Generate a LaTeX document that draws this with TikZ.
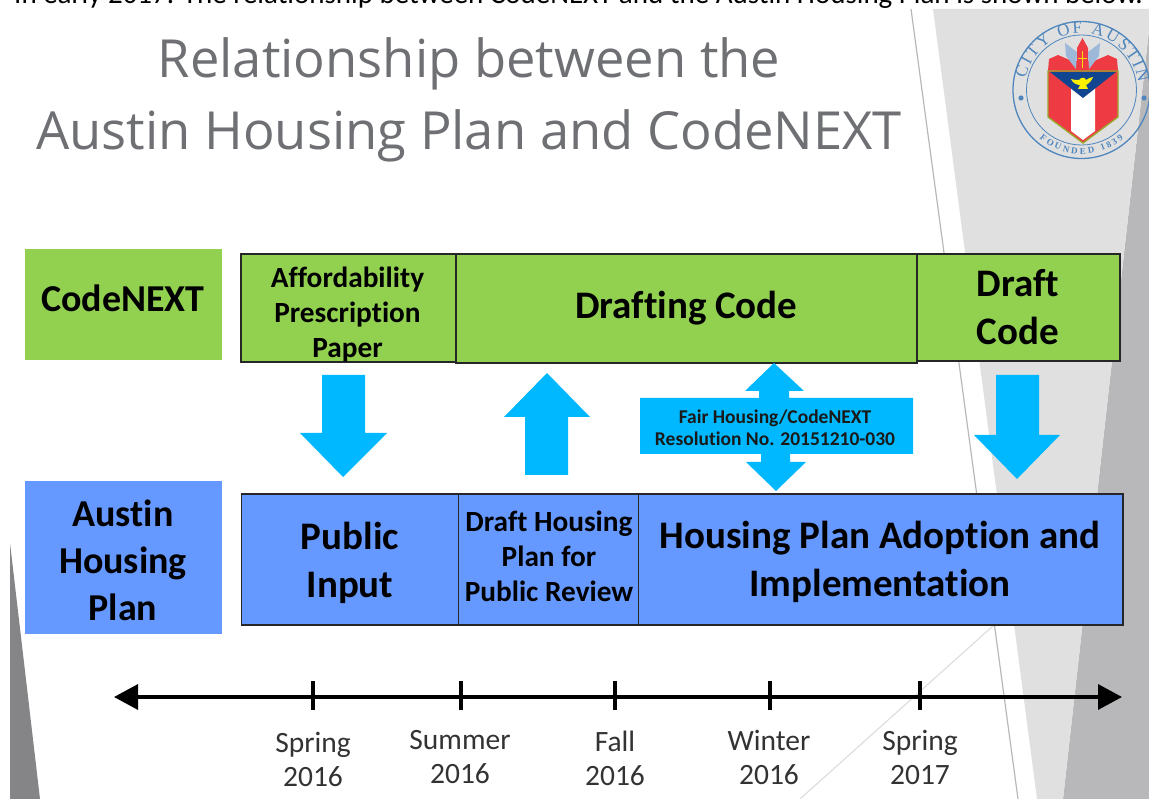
\documentclass[tikz,border=0pt]{standalone}
\usepackage{fontspec}
\setmainfont[Ligatures={NoCommon}]{Carlito}
\newfontfamily\titlefont{Open Sans}
\newfontfamily\sealfont{Liberation Serif}
\usetikzlibrary{arrows.meta,decorations.text}
\definecolor{gr}{HTML}{92D050}
\definecolor{bl}{HTML}{6699FF}
\definecolor{cy}{HTML}{00B8FF}
\definecolor{lg}{HTML}{E0E0E0}
\definecolor{dg}{HTML}{B8B8BA}
\definecolor{tri}{HTML}{858487}
\definecolor{tg}{HTML}{6F7074}
\definecolor{sealb}{HTML}{4F86BD}
\definecolor{sealr}{HTML}{EE3A43}
\definecolor{sealn}{HTML}{12458F}
\definecolor{sealo}{HTML}{9DA52C}
\definecolor{sealw}{HTML}{9DB8D8}
\tikzset{
  x=1pt,y=-1pt,
  band/.style={draw=black!85,line width=1.6pt,fill=#1,font=\bfseries,align=center,inner sep=0pt,anchor=north west,text=black},
  tag/.style={fill=#1,inner sep=0pt,anchor=north west},
  lbl/.style={inner sep=0pt,align=center,text=black},
  big/.style={font=\bfseries\fontsize{39}{48}\selectfont},
  lefttag/.style={font=\bfseries\fontsize{38}{47}\selectfont},
  mid/.style={font=\bfseries\fontsize{29.3}{35}\selectfont},
  blk/.style={fill=cy,draw=none},
  tick/.style={line width=3.4pt,draw=black},
  when/.style={font=\fontsize{29.5}{34}\selectfont,align=center,text=black!80,anchor=north,inner sep=0pt},
  ttl/.style={anchor=base,inner sep=0pt,text=tg,font=\titlefont\fontsize{52.5}{58}\selectfont}
}
\begin{document}
\begin{tikzpicture}
\useasboundingbox (0,0) rectangle (1149,799);
% slide decoration
\fill[dg] (1149,30) -- (1063,799) -- (1149,799) -- cycle;
\fill[lg] (933,9) -- (1149,9) -- (1149,30) -- (1063,799) -- (1037,799) -- cycle;
\draw[black!28,line width=1.2pt] (911,9) -- (1018,799);
\draw[black!13,line width=1.2pt] (994,625) -- (800,799);
\fill[tri] (10,543) -- (40,799) -- (10,799) -- cycle;
% clipped sentence on top
\begin{scope}
\clip (0,0) rectangle (1149,9);
\node[anchor=base west,inner sep=0pt,font=\fontsize{29}{30}\selectfont] (lead) at (14,4) {In early 2017. The relationship between CodeNEXT and the Austin Housing Plan is shown below.};
\end{scope}
% title
\node[ttl] (t1) at (469,78) {Relationship between the};
\node[ttl] (t2) at (469,150) {Austin Housing Plan and CodeNEXT};
% seal
\draw[sealb,line width=1.3pt] (1081.5,90) circle (68.5);
\draw[sealb,line width=0.8pt] (1081.5,90) circle (55);
\fill[sealb] (1021,98) circle (2.6) (1144,98) circle (2.6);
\path[decorate,decoration={text along path,text align={fit to path},text={|\sealfont\fontsize{17}{17}\selectfont\color{sealb}|CITY OF AUSTIN}}] (1025.7,78.1) arc[start angle=192,end angle=353,radius=57];
\path[decorate,decoration={text along path,text align={fit to path},text={|\sealfont\fontsize{9}{9}\selectfont\bfseries\color{sealb}|FOUNDED 1839}}] (1039.5,138.3) arc[start angle=131,end angle=49,radius=64];
\fill[sealr] (1048,71) -- (1049,59) -- (1058,55) -- (1072,61) -- (1077,61) -- (1077,48) -- (1082.5,38) -- (1088,48) -- (1088,61) -- (1094,61) -- (1108,55) -- (1117,59) -- (1118,71) -- cycle;
\fill[sealw] (1076,69) -- (1066,56) -- (1065,43) -- (1077,52) -- cycle (1089,69) -- (1099,56) -- (1100,43) -- (1088,52) -- cycle;
\draw[yellow!80!orange,line width=1pt] (1082.5,51) -- (1082.5,68) (1078,59) -- (1087,59);
\fill[sealr] (1048,71) -- (1118,71) -- (1118,117) -- (1083,143) -- (1048,117) -- cycle;
\fill[white] (1071,88) -- (1095,88) -- (1095,131) -- (1083,140) -- (1071,131) -- cycle;
\fill[sealn] (1050,72) -- (1116,72) -- (1083,98) -- cycle;
\fill[yellow] (1071,79) .. controls (1073,84) and (1078,85) .. (1080,85) -- (1078,89) -- (1088,89) -- (1086,85) .. controls (1089,84) and (1092,80) .. (1093,77) .. controls (1088,78) and (1087,80) .. (1086,80) .. controls (1085,77) and (1081,77) .. (1079,80) .. controls (1076,81) and (1074,79) .. cycle;
\draw[sealo,line width=1.4pt] (1048,71) -- (1118,71) -- (1118,117) -- (1083,143) -- (1048,117) -- cycle;
% left tags
\node[tag=gr,minimum width=197pt,minimum height=111pt] (cn) at (25,249) {};
\node[lbl,lefttag] (cnl) at (123,298) {CodeNEXT};
\node[tag=bl,minimum width=197pt,minimum height=153pt] (ahp) at (25,481) {};
\node[lbl,lefttag] (ahpl) at (123,560) {Austin\\Housing\\Plan};
% top row
\node[band=gr,minimum width=215pt,minimum height=108pt] (app) at (240,253) {};
\node[lbl,mid] (appl) at (347.5,315) {Affordability\\Prescription\\Paper};
\node[band=gr,minimum width=203.5pt,minimum height=107pt,big] (dr) at (915.5,253) {Draft\\Code};
\node[band=gr,minimum width=461pt,minimum height=109pt,big] (dc) at (455,253) {Drafting Code};
% bottom row
\node[band=bl,minimum width=217pt,minimum height=131pt] (pi) at (240.5,493) {};
\node[lbl,big] (pil) at (350,563) {Public\\Input};
\node[band=bl,minimum width=180pt,minimum height=131pt] (dh) at (457.5,493) {};
\node[lbl,mid] (dhl) at (549,556) {Draft Housing\\Plan for\\Public Review};
\node[band=bl,minimum width=484.5pt,minimum height=131pt] (ha) at (637.5,493) {};
\node[lbl,big] (hal) at (880,562) {Housing Plan Adoption and\\Implementation};
% block arrows
\fill[blk] (322,375) -- (365,375) -- (365,433) -- (387,433) -- (343,477) -- (300,433) -- (322,433) -- cycle;
\fill[blk] (525,475) -- (568,475) -- (568,417) -- (590,417) -- (547,373) -- (504,417) -- (525,417) -- cycle;
\fill[blk] (996,375) -- (1039,375) -- (1039,435) -- (1060,435) -- (1017,479) -- (974,435) -- (996,435) -- cycle;
\fill[blk] (774,363) -- (804,391) -- (789,391) -- (789,398) -- (913,398) -- (913,454) -- (790,454) -- (790,462) -- (806,462) -- (776,491) -- (746,462) -- (761,462) -- (761,454) -- (640,454) -- (640,398) -- (759,398) -- (759,391) -- (745,391) -- cycle;
\node[inner sep=0pt,align=center,font=\bfseries\fontsize{19.5}{22}\selectfont,text=black!90] (fh) at (775,428) {Fair Housing/CodeNEXT\\Resolution No. 20151210-030};
% timeline
\coordinate (tl) at (114,697);
\coordinate (tr) at (1122,697);
\draw[line width=3.4pt,{Triangle[length=24pt,width=25pt]}-{Triangle[length=24pt,width=25pt]}] (tl) -- (tr);
\foreach \n/\x in {a/313,b/461,c/615,d/770,e/920}{
  \coordinate (\n u) at (\x,681);
  \coordinate (\n d) at (\x,710);
  \draw[tick] (\n u) -- (\n d);
}
\node[when] (s1) at (313,732) {Spring\\2016};
\node[when] (s2) at (460,730) {Summer\\2016};
\node[when] (s3) at (615,731) {Fall\\2016};
\node[when] (s4) at (769,730) {Winter\\2016};
\node[when] (s5) at (920,730) {Spring\\2017};
\end{tikzpicture}
\end{document}
